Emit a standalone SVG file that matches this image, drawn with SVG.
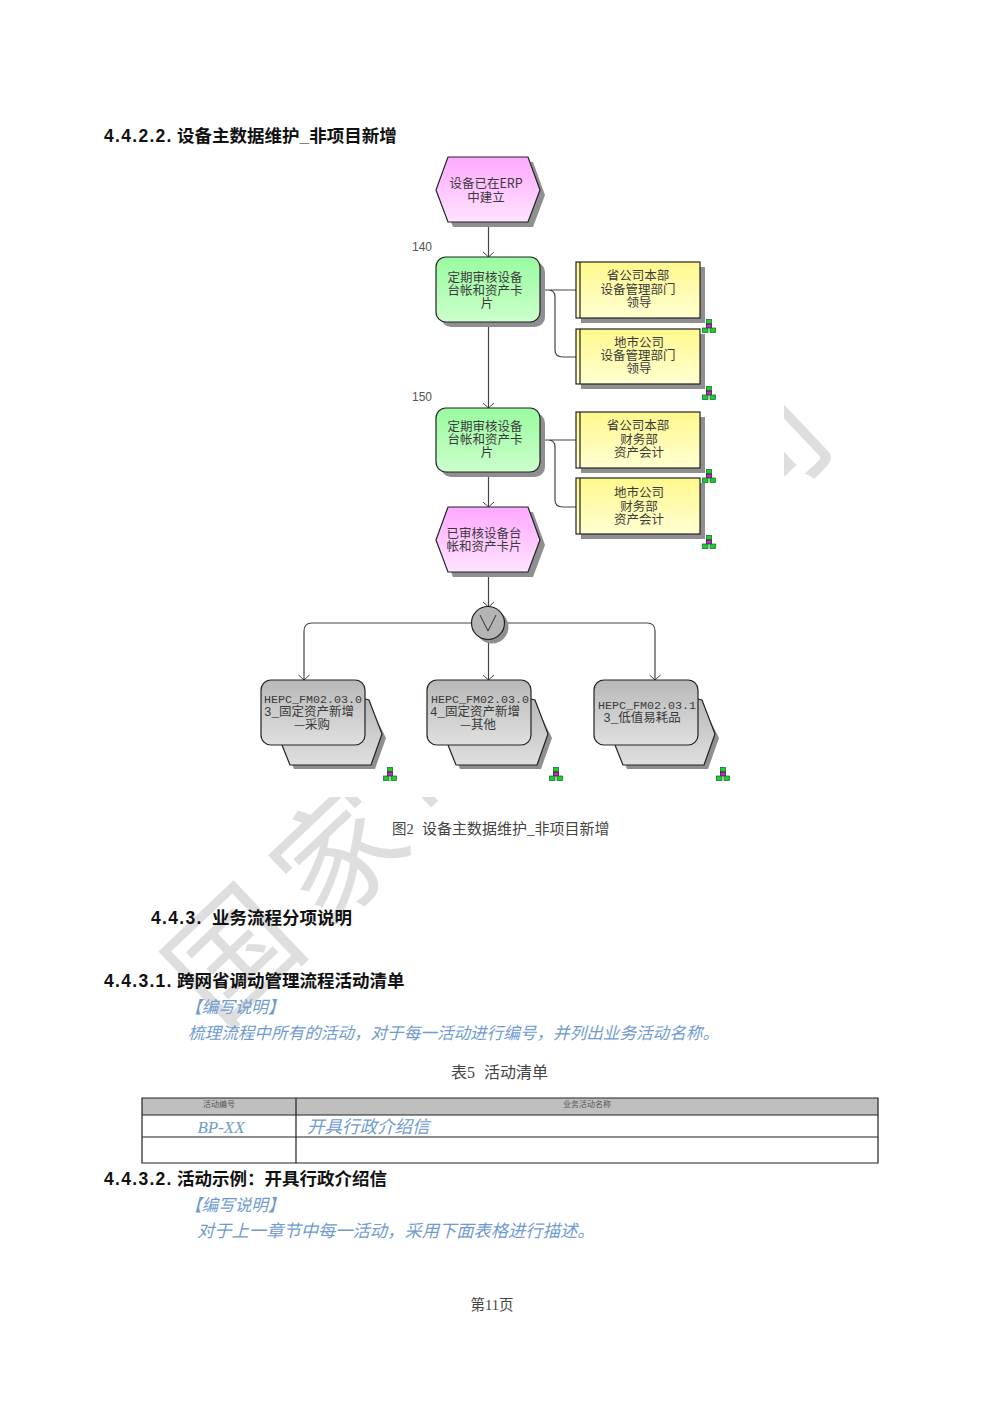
<svg xmlns="http://www.w3.org/2000/svg" width="1000" height="1415" viewBox="0 0 1000 1415">
<style>
text{font-family:"Liberation Sans","Noto Sans CJK SC",sans-serif}
.h{font-size:17.5px;font-weight:700;fill:#111}
.n{letter-spacing:1.3px}
.b{font-size:12.5px;fill:#3a3a3a;text-anchor:middle;font-family:"Noto Sans CJK SC",sans-serif}
.m{font-family:"Liberation Mono","Noto Sans CJK SC",monospace}
.mm{font-size:11.700px}
.c{fill:#444;font-size:14.5px;font-family:"Liberation Serif","Noto Sans CJK SC",serif}
.i{fill:#6f9bd1;font-style:italic;font-size:16.6px;font-family:"Liberation Serif","Noto Sans CJK SC",serif}
.t{font-size:8px;fill:#555;text-anchor:middle;font-family:"Noto Sans CJK SC",sans-serif}
.l{font-size:12px;fill:#555}
.e{stroke:#222;stroke-width:1.2}
.s{fill:#8f8f8f}
.ln{fill:none;stroke:#444;stroke-width:1.2}
.ar{fill:none;stroke:#444;stroke-width:1}
.tb{fill:none;stroke:#222;stroke-width:1.2}
</style>
<defs>
<linearGradient id="pk" x1="0" y1="0" x2="0" y2="1"><stop offset="0" stop-color="#ffa8ff"/><stop offset="1" stop-color="#ffe4ff"/></linearGradient>
<linearGradient id="gr" x1="0" y1="0" x2="0" y2="1"><stop offset="0" stop-color="#99fb9f"/><stop offset="1" stop-color="#ccffcc"/></linearGradient>
<linearGradient id="ye" x1="0" y1="0" x2="0" y2="1"><stop offset="0" stop-color="#fff88c"/><stop offset="1" stop-color="#ffffd2"/></linearGradient>
<linearGradient id="gy" x1="0" y1="0" x2="0" y2="1"><stop offset="0" stop-color="#b8b8b8"/><stop offset="1" stop-color="#e0e0e0"/></linearGradient>
<g id="org">
<rect x="-2.5" y="0.500" width="5" height="4.500" fill="#22cc22" stroke="#063" stroke-width=".7"/>
<rect x="-2.5" y="5" width="5" height="4" fill="#c828c8" stroke="#303" stroke-width=".7"/>
<rect x="-6.500" y="9" width="5.500" height="4.500" fill="#22cc22" stroke="#063" stroke-width=".7"/>
<rect x="1" y="9" width="5.500" height="4.500" fill="#22cc22" stroke="#063" stroke-width=".7"/>
</g>
<path id="hex" d="M12 0H92L104 33 92 65H12L0 33Z"/>
<path id="arr" d="M-5.5 -5L0 0 5.5 -5"/>
</defs>
<rect width="1000" height="1415" fill="#fff"/>
<g id="watermark">
<text transform="translate(219,1031) rotate(-43.5)" font-size="125" font-weight="400" style="font-family:'Noto Sans CJK SC',sans-serif" fill="#dedede" letter-spacing="21">国家电网公司</text>
<rect x="250" y="150" width="534" height="647" fill="#fff"/>
</g>
<g id="connectors">
<path class="ln" d="M488.500 222V257M488.500 322V408M488.500 472V507M488.500 573V607M540 290H576M548 290C553 290 555 292 555 297V350C555 355 558 357 563 357H576M540 440H576M548 440C553 440 555 442 555 447V500C555 505 558 507 563 507H576M471 623H312C307 623 304 626 304 631V680M505 623H647C652 623 655 626 655 631V680M488.500 640V680"/>
<g class="ar">
<use href="#arr" x="488.500" y="257"/><use href="#arr" x="488.500" y="408"/><use href="#arr" x="488.500" y="507"/><use href="#arr" x="488.500" y="607"/><use href="#arr" x="304" y="680"/><use href="#arr" x="488.500" y="680"/><use href="#arr" x="655" y="680"/>
</g>
</g>
<g id="e1"><use href="#hex" x="441" y="162" class="s"/><use href="#hex" x="436" y="157" fill="url(#pk)" class="e"/><text class="b" x="486" y="188">设备已在ERP</text><text class="b" x="486" y="202">中建立</text></g>
<g id="f1"><rect x="441" y="262" width="104" height="65" rx="10" class="s"/><rect x="436" y="257" width="104" height="65" rx="10" fill="url(#gr)" class="e"/><text class="b" x="485" y="282">定期审核设备</text><text class="b" x="485" y="295">台帐和资产卡</text><text class="b" x="487" y="308">片</text></g>
<text class="l" x="412" y="251">140</text>
<g id="o1"><rect x="581" y="267" width="124" height="56" class="s"/><rect x="576" y="262" width="124" height="56" fill="url(#ye)" class="e"/><path class="e" d="M580 262V318"/><text class="b" x="638" y="280">省公司本部</text><text class="b" x="638" y="294">设备管理部门</text><text class="b" x="639" y="307">领导</text><use href="#org" x="709" y="319"/></g>
<g id="o2"><rect x="581" y="334" width="124" height="55" class="s"/><rect x="576" y="329" width="124" height="55" fill="url(#ye)" class="e"/><path class="e" d="M580 329V384"/><text class="b" x="639" y="347">地市公司</text><text class="b" x="638" y="360">设备管理部门</text><text class="b" x="639" y="373">领导</text><use href="#org" x="709" y="386"/></g>
<text class="l" x="412" y="401">150</text>
<g id="f2"><rect x="441" y="413" width="104" height="64" rx="10" class="s"/><rect x="436" y="408" width="104" height="64" rx="10" fill="url(#gr)" class="e"/><text class="b" x="485" y="431">定期审核设备</text><text class="b" x="485" y="444">台帐和资产卡</text><text class="b" x="487" y="457">片</text></g>
<g id="o3"><rect x="581" y="417" width="124" height="56" class="s"/><rect x="576" y="412" width="124" height="56" fill="url(#ye)" class="e"/><path class="e" d="M580 412V468"/><text class="b" x="638" y="430">省公司本部</text><text class="b" x="639" y="444">财务部</text><text class="b" x="639" y="457">资产会计</text><use href="#org" x="709" y="469"/></g>
<g id="o4"><rect x="581" y="483" width="124" height="56" class="s"/><rect x="576" y="478" width="124" height="56" fill="url(#ye)" class="e"/><path class="e" d="M580 478V534"/><text class="b" x="639" y="497">地市公司</text><text class="b" x="639" y="511">财务部</text><text class="b" x="639" y="524">资产会计</text><use href="#org" x="709" y="535"/></g>
<g id="e2"><use href="#hex" x="441" y="512" class="s"/><use href="#hex" x="436" y="507" fill="url(#pk)" class="e"/><text class="b" x="484" y="538">已审核设备台</text><text class="b" x="484" y="551">帐和资产卡片</text></g>
<g id="xor"><circle cx="492" cy="627" r="16.500" class="s"/><circle cx="488" cy="623" r="16.500" fill="#b4b4b4" class="e"/><path d="M480 615L488 631 496 615" fill="none" stroke="#333" stroke-width="1"/></g>
<g id="p1"><path d="M369 704L386 738 375 769H294L286 749Z" class="s"/><path d="M365 699L369 700 382 734 371 765H290L282 745" fill="url(#gy)" class="e"/><rect x="261" y="680" width="104" height="65" rx="10" fill="url(#gy)" class="e"/><text class="b m mm" x="313" y="703">HEPC_FM02.03.0</text><text class="b m" x="309" y="716">3_固定资产新增</text><text class="b" x="312" y="729">—采购</text><use href="#org" x="390" y="767"/></g>
<g id="p2"><path d="M535 704L552 738 541 769H460L452 749Z" class="s"/><path d="M531 699L535 700 548 734 537 765H456L448 745" fill="url(#gy)" class="e"/><rect x="427" y="680" width="104" height="65" rx="10" fill="url(#gy)" class="e"/><text class="b m mm" x="480" y="703">HEPC_FM02.03.0</text><text class="b m" x="475" y="716">4_固定资产新增</text><text class="b" x="478" y="729">—其他</text><use href="#org" x="556" y="767"/></g>
<g id="p3"><path d="M702 704L719 738 708 769H627L619 749Z" class="s"/><path d="M698 699L702 700 715 734 704 765H623L615 745" fill="url(#gy)" class="e"/><rect x="594" y="680" width="104" height="65" rx="10" fill="url(#gy)" class="e"/><text class="b m mm" x="647" y="709">HEPC_FM02.03.1</text><text class="b m" x="642" y="722">3_低值易耗品</text><use href="#org" x="723" y="767"/></g>
<text class="h" x="104" y="142"><tspan class="n">4.4.2.2.</tspan><tspan x="177">设备主数据维护_非项目新增</tspan></text>
<text class="c" x="392" y="834">图2<tspan x="422" style="font-size:15px">设备主数据维护_非项目新增</tspan></text>
<text class="h" x="151" y="924"><tspan class="n">4.4.3.</tspan><tspan x="212">业务流程分项说明</tspan></text>
<text class="h" x="104" y="987"><tspan class="n">4.4.3.1.</tspan><tspan x="177">跨网省调动管理流程活动清单</tspan></text>
<text class="i" x="185" y="1013">【编写说明】</text>
<text class="i" x="188" y="1039">梳理流程中所有的活动，对于每一活动进行编号，并列出业务活动名称。</text>
<text class="c" x="451" y="1078" style="font-size:16px">表5<tspan x="484">活动清单</tspan></text>
<g id="table">
<rect x="142" y="1098" width="736" height="17" fill="#bfbfbf"/>
<path class="tb" d="M142 1098H878V1163H142ZM142 1115H878M142 1137H878M296 1098V1163"/>
<text class="t" x="219" y="1107">活动编号</text><text class="t" x="587" y="1107">业务活动名称</text>
<text class="i" x="221" y="1133" text-anchor="middle" style="font-size:17px">BP-XX</text>
<text class="i" x="307" y="1133" style="font-size:17.5px">开具行政介绍信</text>
</g>
<text class="h" x="104" y="1185"><tspan class="n">4.4.3.2.</tspan><tspan x="177">活动示例：开具行政介绍信</tspan></text>
<text class="i" x="185" y="1211">【编写说明】</text>
<text class="i" x="197" y="1237" style="font-size:17.3px">对于上一章节中每一活动，采用下面表格进行描述。</text>
<text class="c" x="492" y="1310" text-anchor="middle">第11页</text>
</svg>
